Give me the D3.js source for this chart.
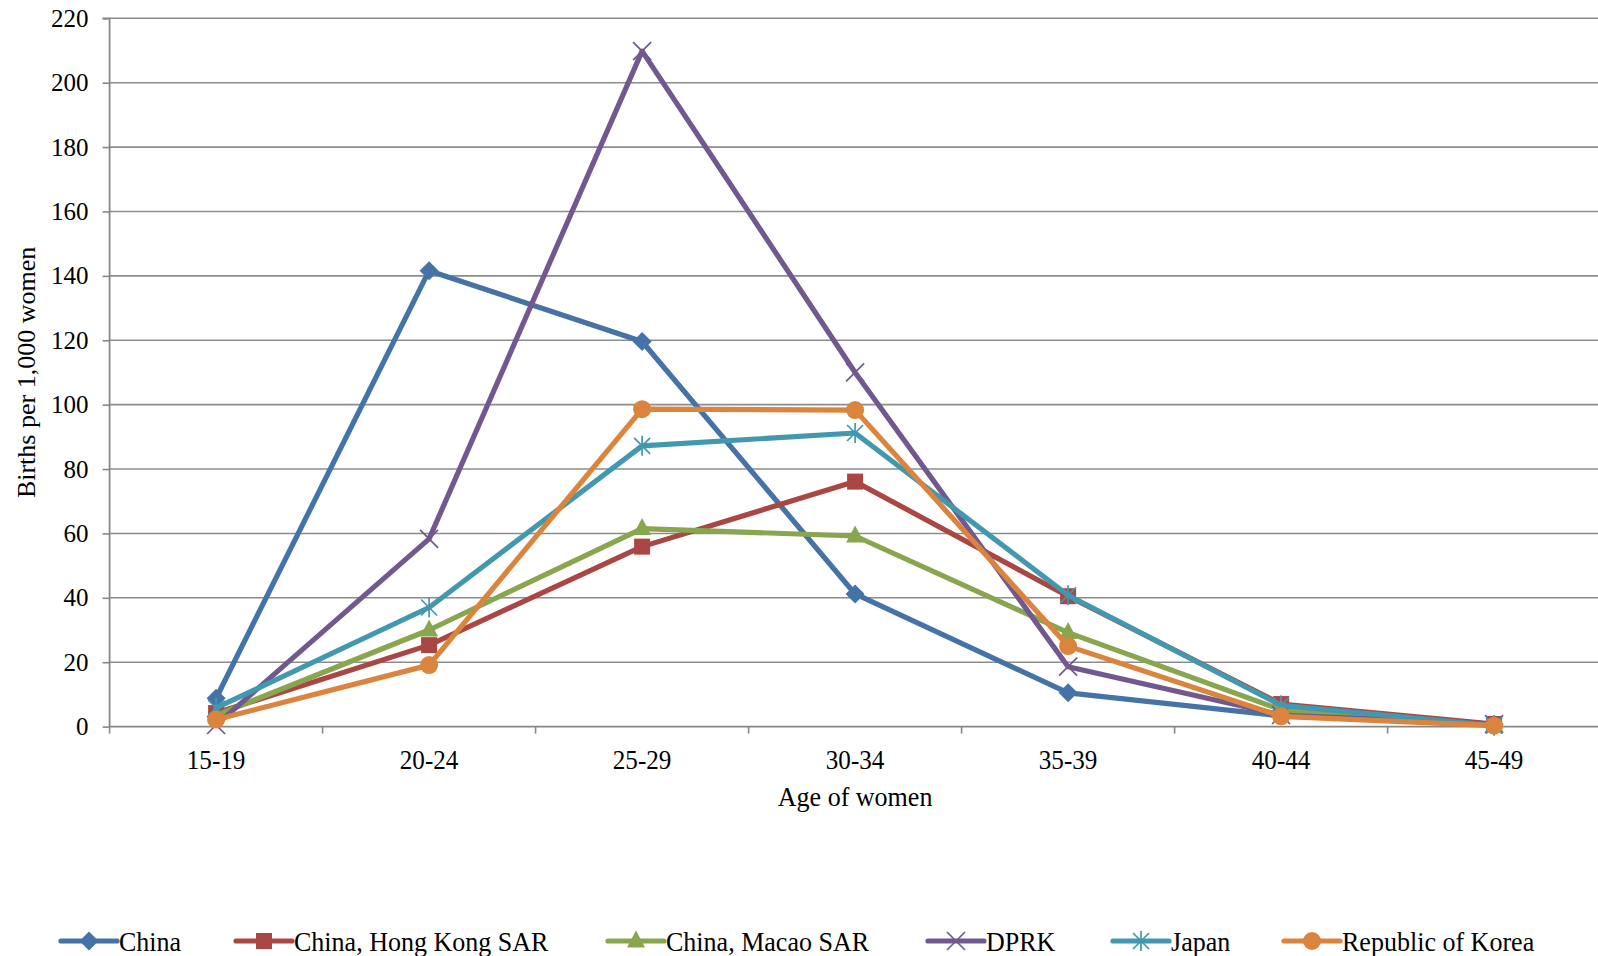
<!DOCTYPE html>
<html>
<head>
<meta charset="utf-8">
<script src="https://cdn.jsdelivr.net/npm/d3@7/dist/d3.min.js"></script>
<style>
  html, body { margin: 0; padding: 0; background: #fff; }
  svg { display: block; }
  svg text { font-family: "Liberation Serif", "Times New Roman", Times, "DejaVu Serif", serif !important; fill: #000; }
</style>
</head>
<body>
<svg id="chart" width="1598" height="956"></svg>
<script>
// Age-specific fertility rates, births per 1,000 women
const ageGroups = ["15-19", "20-24", "25-29", "30-34", "35-39", "40-44", "45-49"];
const yTicks = [0, 20, 40, 60, 80, 100, 120, 140, 160, 180, 200, 220];

const china     = [8.8, 141.6, 119.6, 41.2, 10.5, 3.3, 0.7];
const hongKong  = [4.2, 25.3, 55.9, 76.1, 40.5, 7.0, 0.8];
const macao     = [3.5, 30.0, 61.5, 59.2, 29.2, 5.2, 0.4];
const dprk      = [0.5, 58.3, 209.8, 110.0, 18.6, 3.6, 0.8];
const japan     = [5.8, 37.0, 87.2, 91.2, 40.8, 6.6, 0.3];
const korea     = [2.2, 19.1, 98.6, 98.3, 25.0, 3.2, 0.3];

const seriesNames = ["China", "China, Hong Kong SAR", "China, Macao SAR", "DPRK", "Japan", "Republic of Korea"];
const seriesValues = [china, hongKong, macao, dprk, japan, korea];
const seriesColors = ["#4572A7", "#AA4643", "#89A54E", "#71588F", "#4198AF", "#DB843D"];
const seriesMarkers = ["diamond", "square", "triangle", "x", "star", "circle"];

const serif = "'Liberation Serif', 'Times New Roman', serif";
const narrow = 0.93; // horizontal squeeze of the category and legend labels
const svg = d3.select("#chart");
const plotLeft = 109.6, plotRight = 1600.6, plotTop = 18.3, plotBottom = 726.6;

const xBand = d3.scaleBand().domain(ageGroups).range([plotLeft, plotRight]).paddingInner(0).paddingOuter(0);
const x = d => xBand(d) + xBand.bandwidth() / 2;
const y = d3.scaleLinear().domain([0, 220]).range([plotBottom, plotTop]);

const axisColor = "#878787";

// horizontal gridlines
svg.append("g").selectAll("line").data(yTicks.filter(v => v > 0)).join("line")
  .attr("x1", plotLeft).attr("x2", plotRight)
  .attr("y1", d => y(d)).attr("y2", d => y(d))
  .attr("stroke", "#8c8c8c").attr("stroke-width", 1.6);

// y axis
const yAxis = d3.axisLeft(y).tickValues(yTicks).tickSize(7).tickPadding(14).tickFormat(d3.format("d"));
const gy = svg.append("g").attr("transform", `translate(${plotLeft},0)`).call(yAxis)
  .attr("font-family", serif).attr("font-size", 25);
gy.select(".domain").attr("stroke", axisColor).attr("stroke-width", 1.8).attr("d", `M-7,${plotTop}H0V${plotBottom}`);
gy.selectAll(".tick line").attr("stroke", axisColor).attr("stroke-width", 1.6);
gy.selectAll(".tick text").attr("font-family", serif).attr("font-size", 25).attr("fill", "#000");

// x axis with ticks at category boundaries
const gx = svg.append("g").attr("transform", `translate(0,${plotBottom})`);
gx.append("line").attr("x1", plotLeft).attr("x2", plotRight).attr("y1", 0).attr("y2", 0)
  .attr("stroke", axisColor).attr("stroke-width", 1.8);
const bounds = ageGroups.map(d => xBand(d));
gx.selectAll("line.tk").data(bounds).join("line").attr("class", "tk")
  .attr("x1", d => d).attr("x2", d => d).attr("y1", 0).attr("y2", 7)
  .attr("stroke", axisColor).attr("stroke-width", 1.6);
gx.selectAll("text").data(ageGroups).join("text")
  .attr("transform", d => `translate(${x(d)},42) scale(${narrow},1)`)
  .attr("text-anchor", "middle").attr("font-family", serif).attr("font-size", 27).text(d => d);

// axis titles
svg.append("text").attr("transform", `translate(${(plotLeft + plotRight) / 2},806) scale(${narrow},1)`)
  .attr("text-anchor", "middle").attr("font-family", serif).attr("font-size", 28).text("Age of women");
svg.append("text").attr("transform", `translate(35,${(plotTop + plotBottom) / 2}) rotate(-90)`)
  .attr("text-anchor", "middle").attr("font-family", serif).attr("font-size", 26).text("Births per 1,000 women");

// marker drawing
function drawMarker(g, type, color) {
  switch (type) {
    case "diamond":
      g.append("path").attr("d", "M0,-9.5L9.5,0L0,9.5L-9.5,0Z").attr("fill", color);
      break;
    case "square":
      g.append("rect").attr("x", -8).attr("y", -8).attr("width", 16).attr("height", 16).attr("fill", color);
      break;
    case "triangle":
      g.append("path").attr("d", "M0,-10.5L9,6.5L-9,6.5Z").attr("fill", color);
      break;
    case "x":
      g.append("path").attr("d", "M-9,-9L9,9M9,-9L-9,9").attr("stroke", color).attr("stroke-width", 1.7).attr("fill", "none");
      break;
    case "star":
      g.append("path").attr("d", "M-8,-8L8,8M8,-8L-8,8M0,-10V10").attr("stroke", color).attr("stroke-width", 1.7).attr("fill", "none");
      break;
    case "circle":
      g.append("circle").attr("r", 9).attr("fill", color);
      break;
  }
}

// series lines and markers
const line = d3.line().x((d, i) => x(ageGroups[i])).y(d => y(d));
seriesValues.forEach((vals, s) => {
  const g = svg.append("g");
  g.append("path").datum(vals).attr("d", line)
    .attr("fill", "none").attr("stroke", seriesColors[s]).attr("stroke-width", 5.2)
    .attr("stroke-linejoin", "round").attr("stroke-linecap", "round");
  vals.forEach((v, i) => {
    const m = g.append("g").attr("transform", `translate(${x(ageGroups[i])},${y(v)})`);
    drawMarker(m, seriesMarkers[s], seriesColors[s]);
  });
});

// legend
const legendX = [61, 236, 608, 928, 1113, 1284];
const legendY = 941;
seriesNames.forEach((name, s) => {
  const g = svg.append("g").attr("transform", `translate(${legendX[s]},${legendY})`);
  g.append("line").attr("x1", 0).attr("x2", 56).attr("y1", 0).attr("y2", 0)
    .attr("stroke", seriesColors[s]).attr("stroke-width", 5.2).attr("stroke-linecap", "round");
  const m = g.append("g").attr("transform", "translate(28,0)");
  drawMarker(m, seriesMarkers[s], seriesColors[s]);
  g.append("text").attr("transform", `translate(58,10) scale(${narrow},1)`)
    .attr("font-family", serif).attr("font-size", 28).text(name);
});
</script>
</body>
</html>
